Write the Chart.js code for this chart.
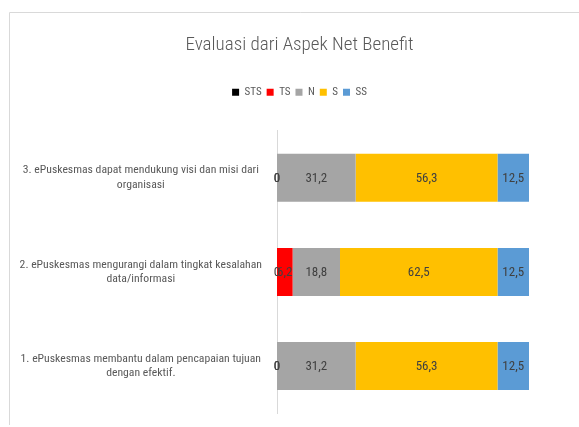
<!DOCTYPE html>
<html>
<head>
<meta charset="utf-8">
<script src="https://cdn.jsdelivr.net/npm/chart.js@4.4.1/dist/chart.umd.min.js"></script>
<style>
  html, body { margin: 0; padding: 0; background: #fff; overflow: hidden; }
  #wrap { width: 579px; height: 427px; position: relative; overflow: hidden; }
  canvas { display: block; }
</style>
</head>
<body>
<div id="wrap"><canvas id="c" width="591" height="427"></canvas></div>
<script>
const categories = [
  ["3. ePuskesmas dapat mendukung visi dan misi dari", "organisasi"],
  ["2. ePuskesmas mengurangi dalam tingkat kesalahan", "data/informasi"],
  ["1. ePuskesmas membantu dalam pencapaian tujuan", "dengan efektif."]
];
const seriesNames = ["STS", "TS", "N", "S", "SS"];
const STS = [0, 0, 0];
const TS = [0, 6.2, 0];
const N = [31.2, 18.8, 31.2];
const S = [56.3, 62.5, 56.3];
const SS = [12.5, 12.5, 12.5];
const seriesColors = ["#000000", "#FF0000", "#A5A5A5", "#FFC000", "#5B9BD5"];
const seriesValues = [STS, TS, N, S, SS];

const FONT = "'Roboto Condensed', 'DejaVu Sans Condensed', sans-serif";

const frame = {
  id: 'frame',
  beforeDraw(chart) {
    const ctx = chart.ctx;
    ctx.save();
    ctx.strokeStyle = '#D9D9D9';
    ctx.lineWidth = 1;
    ctx.beginPath();
    ctx.moveTo(9.5, 425);
    ctx.lineTo(9.5, 12.5);
    ctx.lineTo(591, 12.5);
    ctx.stroke();
    ctx.restore();
  }
};

const legendGap = {
  id: 'legendGap',
  beforeInit(chart) {
    const fit = chart.legend.fit;
    chart.legend.fit = function () {
      fit.bind(chart.legend)();
      this.height += 23;
    };
  }
};

const dataLabels = {
  id: 'dataLabels',
  afterDatasetsDraw(chart) {
    const ctx = chart.ctx;
    ctx.save();
    ctx.font = "13px " + FONT;
    ctx.fillStyle = '#404040';
    ctx.textAlign = 'center';
    ctx.textBaseline = 'middle';
    chart.data.datasets.forEach((ds, di) => {
      const meta = chart.getDatasetMeta(di);
      meta.data.forEach((el, i) => {
        const v = ds.data[i];
        const p = el.getCenterPoint();
        ctx.fillText(String(v).replace('.', ','), p.x, p.y + 1);
      });
    });
    ctx.restore();
  }
};

new Chart(document.getElementById('c'), {
  type: 'bar',
  data: {
    labels: categories,
    datasets: seriesNames.map((name, k) => ({
      label: name,
      data: seriesValues[k],
      backgroundColor: seriesColors[k],
      borderWidth: 0,
      categoryPercentage: 1,
      barPercentage: 0.51
    }))
  },
  options: {
    indexAxis: 'y',
    responsive: false,
    animation: false,
    devicePixelRatio: 1,
    layout: { padding: { left: 8, right: 0, top: 28, bottom: 14 } },
    scales: {
      x: { stacked: true, min: 0, max: 100, display: false },
      y: {
        stacked: true,
        grid: { display: false, drawTicks: false },
        border: { display: true, color: '#D9D9D9', width: 1 },
        ticks: {
          crossAlign: 'center',
          padding: 15,
          color: '#595959',
          font: { family: FONT, size: 11.7, lineHeight: 1.25 }
        },
        afterFit(scale) {
          scale.width = 269;
          scale.paddingTop = 0;
          scale.paddingBottom = 0;
        }
      },
      y2: {
        type: 'category',
        position: 'right',
        display: true,
        grid: { display: false, drawTicks: false },
        border: { display: false },
        ticks: { display: false },
        afterFit(scale) {
          scale.width = 62;
          scale.paddingTop = 0;
          scale.paddingBottom = 0;
        }
      }
    },
    plugins: {
      title: {
        display: true,
        text: 'Evaluasi dari Aspek Net Benefit',
        color: '#595959',
        font: { family: FONT, size: 19, weight: 300, lineHeight: 1.2 },
        padding: { top: 6, bottom: 25 }
      },
      legend: {
        display: true,
        position: 'top',
        labels: {
          boxWidth: 7,
          boxHeight: 7,
          padding: 5,
          color: '#595959',
          font: { family: FONT, size: 11 }
        }
      },
      tooltip: { enabled: false }
    }
  },
  plugins: [frame, legendGap, dataLabels]
});
</script>
</body>
</html>
